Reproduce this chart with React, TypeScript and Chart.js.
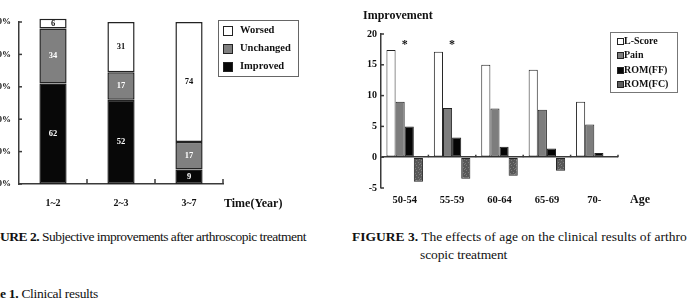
import React, { useEffect, useRef } from "react";
import { Chart, registerables } from "chart.js";

Chart.register(...registerables);

const SERIF = '"Liberation Serif", "Times New Roman", serif';
const INK = "#111";
const AXIS = "#3a3a3a";

// Figure 2: subjective outcome by follow-up period (%)
const periods = ["1~2", "2~3", "3~7"];
const improved = [62, 52, 9];
const unchanged = [34, 17, 17];
const worsed = [6, 31, 74];

// Figure 3: mean improvement by age group
const ageGroups = ["50-54", "55-59", "60-64", "65-69", "70-"];
const lScore = [17.4, 17.1, 15.0, 14.2, 9.0];
const pain = [9.0, 8.0, 7.9, 7.7, 5.3];
const romFF = [5.0, 3.2, 1.7, 1.4, 0.7];
const romFC = [-4.0, -3.5, -3.0, -2.2, null];
const significant = [true, true, false, false, false];
const starLevel = 18.2;

// short tick marks pointing into the plot area
const innerTicks = {
  id: "innerTicks",
  afterDatasetsDraw(chart: any, _args: any, opts: any) {
    const { ctx, chartArea } = chart;
    const xs = chart.scales.x;
    const ys = chart.scales.y;
    ctx.save();
    ctx.strokeStyle = AXIS;
    ctx.lineWidth = opts.width ?? 1.5;
    ys.ticks.forEach((_t: any, i: number) => {
      const py = ys.getPixelForTick(i);
      ctx.beginPath();
      ctx.moveTo(chartArea.left, py);
      ctx.lineTo(chartArea.left + opts.yLen, py);
      ctx.stroke();
    });
    const base = ys.getPixelForValue(opts.xBase);
    const n = xs.ticks.length;
    for (let i = 1; i <= n; i++) {
      const px = xs.left + (xs.width * i) / n;
      ctx.beginPath();
      ctx.moveTo(px, base);
      ctx.lineTo(px, base - opts.xLen);
      ctx.stroke();
    }
    ctx.restore();
  },
};

// value printed in the middle of each stacked segment
const segmentLabels = {
  id: "segmentLabels",
  afterDatasetsDraw(chart: any) {
    const { ctx } = chart;
    ctx.save();
    ctx.font = `bold 8.5px ${SERIF}`;
    ctx.textAlign = "center";
    ctx.textBaseline = "middle";
    chart.data.datasets.forEach((ds: any, di: number) => {
      const meta = chart.getDatasetMeta(di);
      meta.data.forEach((bar: any, i: number) => {
        const p = bar.getProps(["x", "y", "base"], true);
        ctx.fillStyle = ds.labelColor;
        ctx.fillText(String(ds.data[i]), p.x, (p.y + p.base) / 2);
      });
    });
    ctx.restore();
  },
};

// significance marks above age groups
const stars = {
  id: "stars",
  afterDatasetsDraw(chart: any) {
    const { ctx } = chart;
    const xs = chart.scales.x;
    const ys = chart.scales.y;
    ctx.save();
    ctx.font = `bold 12px ${SERIF}`;
    ctx.fillStyle = INK;
    ctx.textAlign = "center";
    ctx.textBaseline = "middle";
    significant.forEach((s, i) => {
      if (s) ctx.fillText("*", xs.getPixelForValue(i), ys.getPixelForValue(starLevel));
    });
    ctx.restore();
  },
};

// dark grey fill with scattered light specks
function speckle(): CanvasPattern | string {
  const c = document.createElement("canvas");
  c.width = 5;
  c.height = 5;
  const g = c.getContext("2d");
  if (!g) return "#5e5e5e";
  g.fillStyle = "#585858";
  g.fillRect(0, 0, 5, 5);
  g.fillStyle = "#7e7e7e";
  g.fillRect(1, 0, 1, 1);
  g.fillRect(3, 2, 1, 1);
  g.fillRect(0, 3, 1, 1);
  g.fillRect(4, 4, 1, 1);
  return g.createPattern(c, "repeat") || "#5e5e5e";
}

const fig2Series = [
  { label: "Improved", data: improved, fill: "#080808", text: "#fff" },
  { label: "Unchanged", data: unchanged, fill: "#808080", text: "#fff" },
  { label: "Worsed", data: worsed, fill: "#ffffff", text: INK },
];

function OutcomeChart() {
  const ref = useRef<HTMLCanvasElement>(null);
  useEffect(() => {
    const chart = new Chart(ref.current as HTMLCanvasElement, {
      type: "bar",
      data: {
        labels: periods,
        datasets: fig2Series.map((s) => ({
          label: s.label,
          data: s.data,
          backgroundColor: s.fill,
          borderColor: "#222",
          borderWidth: 1.5,
          borderSkipped: false,
          barPercentage: 0.4,
          categoryPercentage: 1,
          clip: false,
          labelColor: s.text,
        })) as any,
      },
      options: {
        animation: false,
        responsive: false,
        devicePixelRatio: 1,
        layout: { padding: { left: 0, right: 37, top: 22, bottom: 0 } },
        plugins: { legend: { display: false }, tooltip: { enabled: false }, innerTicks: { yLen: 3, xLen: 5, xBase: 0 } } as any,
        scales: {
          x: {
            stacked: true,
            grid: { display: false, drawTicks: false },
            border: { display: true, color: AXIS, width: 1.5 },
            ticks: { font: { family: SERIF, size: 10, weight: "bold" }, color: INK, padding: 13 },
            afterFit: (s: any) => { s.height = 31; },
          },
          y: {
            stacked: true,
            min: 0,
            max: 100,
            grid: { display: false, drawTicks: false },
            border: { display: true, color: AXIS, width: 1.5 },
            ticks: {
              stepSize: 20,
              padding: 8,
              color: INK,
              font: { family: SERIF, size: 9, weight: "bold" },
              callback: (v: any) => `${v}%`,
            },
            afterFit: (s: any) => { s.width = 59; },
          },
        },
      },
      plugins: [innerTicks, segmentLabels],
    });
    return () => chart.destroy();
  }, []);
  return (
    <canvas
      ref={ref}
      width={300}
      height={215}
      style={{ position: "absolute", left: -40, top: 0, width: 300, height: 215 }}
    />
  );
}

function AgeChart() {
  const ref = useRef<HTMLCanvasElement>(null);
  useEffect(() => {
    const series = [
      { label: "L-Score", data: lScore, fill: "#ffffff" as any },
      { label: "Pain", data: pain, fill: "#7d7d7d" as any },
      { label: "ROM(FF)", data: romFF, fill: "#060606" as any },
      { label: "ROM(FC)", data: romFC, fill: speckle() as any },
    ];
    const chart = new Chart(ref.current as HTMLCanvasElement, {
      type: "bar",
      data: {
        labels: ageGroups,
        datasets: series.map((s) => ({
          label: s.label,
          data: s.data,
          backgroundColor: s.fill,
          borderColor: "#222",
          borderWidth: 1,
          borderSkipped: false,
          barPercentage: 1,
          categoryPercentage: 0.77,
        })) as any,
      },
      options: {
        animation: false,
        responsive: false,
        devicePixelRatio: 1,
        layout: { padding: { left: 0, right: 69, top: 34, bottom: 0 } },
        plugins: { legend: { display: false }, tooltip: { enabled: false }, innerTicks: { yLen: 3, xLen: 2.5, xBase: 0 } } as any,
        scales: {
          x: {
            grid: { display: false, drawTicks: false },
            border: { display: false },
            ticks: { font: { family: SERIF, size: 10.5, weight: "bold" }, color: INK, padding: 6 },
            afterFit: (s: any) => { s.height = 27; },
          },
          y: {
            min: -5,
            max: 20,
            grid: {
              drawTicks: false,
              lineWidth: 1.5,
              color: (c: any) => (c.tick && c.tick.value === 0 ? AXIS : "rgba(0,0,0,0)"),
            },
            border: { display: true, color: AXIS, width: 1.5 },
            ticks: { stepSize: 5, padding: 4, color: INK, font: { family: SERIF, size: 10, weight: "bold" } },
            afterFit: (s: any) => { s.width = 51; },
          },
        },
      },
      plugins: [innerTicks, stars],
    });
    return () => chart.destroy();
  }, []);
  return (
    <canvas
      ref={ref}
      width={357}
      height={215}
      style={{ position: "absolute", left: 330, top: 0, width: 357, height: 215 }}
    />
  );
}

function Txt(props: { x: number; y: number; size: number; bold?: boolean; spacing?: number; children: React.ReactNode }) {
  const { x, y, size, bold, spacing, children } = props;
  return (
    <div
      style={{
        position: "absolute",
        left: x,
        top: y - size * 0.6,
        fontSize: size,
        lineHeight: `${size * 1.2}px`,
        fontWeight: bold ? 700 : 400,
        letterSpacing: spacing ?? 0,
        whiteSpace: "nowrap",
        color: INK,
      }}
    >
      {children}
    </div>
  );
}

const fig3Legend = [
  { label: "L-Score", swatch: "#ffffff" },
  { label: "Pain", swatch: "#7d7d7d" },
  { label: "ROM(FF)", swatch: "#060606" },
  { label: "ROM(FC)", swatch: "#5e5e5e" },
];

export default function App() {
  useEffect(() => {
    document.body.style.margin = "0";
  }, []);
  return (
    <div
      style={{
        position: "fixed",
        left: 0,
        top: 0,
        width: 687,
        height: 304,
        overflow: "hidden",
        background: "#fff",
        fontFamily: SERIF,
        color: INK,
      }}
    >
      <OutcomeChart />
      <AgeChart />

      {/* Figure 2 legend */}
      <div style={{ position: "absolute", left: 218, top: 20, width: 79, height: 55, border: "1px solid #666" }}>
        {[...fig2Series].reverse().map((s, i) => (
          <div key={s.label} style={{ position: "absolute", left: 0, top: 4 + i * 18, height: 12, width: 79 }}>
            <div style={{ position: "absolute", left: 4, top: 1, width: 8, height: 8, background: s.fill, border: "1px solid #222" }} />
            <div style={{ position: "absolute", left: 21, top: -1, fontSize: 10.5, lineHeight: "12px", fontWeight: 700, whiteSpace: "nowrap" }}>{s.label}</div>
          </div>
        ))}
      </div>
      <Txt x={224} y={203} size={12} bold>Time(Year)</Txt>

      {/* Figure 3 labels and legend */}
      <Txt x={363} y={15} size={12} bold>Improvement</Txt>
      <Txt x={630} y={199} size={12} bold>Age</Txt>
      <div style={{ position: "absolute", left: 610, top: 32, width: 66, height: 59, border: "1px solid #777" }}>
        {fig3Legend.map((s, i) => (
          <div key={s.label} style={{ position: "absolute", left: 0, top: 2 + i * 14.3, height: 12, width: 66 }}>
            <div style={{ position: "absolute", left: 6, top: 3, width: 5, height: 5, background: s.swatch, border: "1px solid #222" }} />
            <div style={{ position: "absolute", left: 13, top: 0, fontSize: 10, lineHeight: "12px", fontWeight: 700, whiteSpace: "nowrap" }}>{s.label}</div>
          </div>
        ))}
      </div>

      {/* captions */}
      <Txt x={0} y={237} size={13.5} spacing={-0.5}>
        <span style={{ position: "relative" }}>
          <b style={{ position: "absolute", right: "100%" }}>FIG</b>
          <b>URE 2.</b>
        </span>{" "}
        Subjective improvements after arthroscopic treatment
      </Txt>
      <Txt x={352} y={237} size={13.5} spacing={0}>
        <b>FIGURE 3.</b> The effects of age on the clinical results of arthro
      </Txt>
      <Txt x={420} y={255} size={13.5} spacing={-0.1}>scopic treatment</Txt>
      <Txt x={0} y={294} size={13.5} spacing={-0.3}>
        <span style={{ position: "relative" }}>
          <b style={{ position: "absolute", right: "100%" }}>Tabl</b>
          <b>e 1.</b>
        </span>{" "}
        Clinical results
      </Txt>
    </div>
  );
}
